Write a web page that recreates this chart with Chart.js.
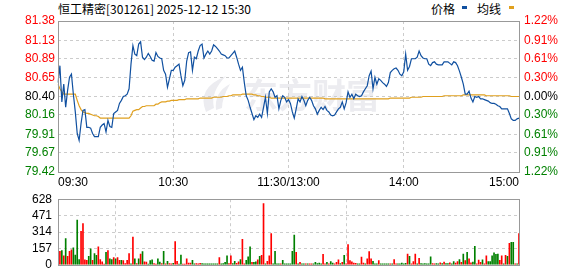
<!DOCTYPE html>
<html lang="zh-CN">
<head>
<meta charset="UTF-8">
<title>恒工精密 分时</title>
<script src="https://cdn.jsdelivr.net/npm/chart.js@4.4.1/dist/chart.umd.min.js"></script>
<style>
  body { margin: 0; background: #fff; width: 578px; height: 276px; position: relative; overflow: hidden;
         font-family: "Noto Sans CJK SC", "Liberation Sans", sans-serif; }
  canvas { position: absolute; left: 0; }
  #price { top: 0; }
  #vol { top: 186px; }
  .t { position: absolute; top: 3px; font-size: 12px; line-height: 12px; color: #000; white-space: nowrap; }
  .sw { position: absolute; top: 6px; width: 5px; height: 3px; }
</style>
</head>
<body>
<div class="t" style="left:58px">恒工精密[301261] 2025-12-12 15:30</div>
<div class="t" style="left:431px">价格</div>
<div class="sw" style="left:462px;background:#1050a0"></div>
<div class="t" style="left:477px">均线</div>
<div class="sw" style="left:509px;background:#e0a01e"></div>
<canvas id="price" width="578" height="192"></canvas>
<canvas id="vol" width="578" height="92"></canvas>
<script>
// one point per minute, 09:30-11:30 then 13:01-15:00 (241 points)
var preClose = 80.40;

var prices = [
  80.58, 80.80, 80.33, 80.56, 80.26, 80.48, 80.65, 80.69, 80.43, 80.20,
  79.92, 79.83, 80.05, 80.22, 80.23, 80.00, 80.00, 79.99, 79.92, 79.88,
  79.88, 79.88, 80.00, 80.03, 80.05, 79.94, 80.09, 80.01, 80.00, 80.18,
  80.20, 80.22, 80.31, 80.35, 80.40, 80.41, 80.43, 80.50, 80.82, 81.06,
  80.95, 80.93, 81.08, 81.11, 80.91, 80.88, 80.91, 80.96, 80.92, 80.87,
  80.86, 80.97, 80.92, 80.90, 80.89, 80.74, 80.69, 80.52, 80.63, 80.74,
  80.74, 80.78, 80.80, 80.82, 80.67, 80.54, 80.61, 80.86, 80.97, 80.98,
  80.74, 80.91, 80.89, 80.99, 81.06, 81.08, 80.90, 80.95, 80.99, 80.95,
  80.99, 81.07, 81.05, 81.02, 80.99, 80.95, 80.94, 80.93, 80.90, 80.90,
  80.93, 80.96, 80.99, 80.91, 80.82, 80.74, 80.78, 80.58, 80.41, 80.35,
  80.26, 80.18, 80.10, 80.15, 80.13, 80.17, 80.13, 80.26, 80.39, 80.18,
  80.46, 80.50, 80.46, 80.39, 80.41, 80.24, 80.35, 80.41, 80.39, 80.33,
  80.36, 80.31, 80.20, 80.12, 80.24, 80.37, 80.33, 80.40, 80.35, 80.28,
  80.35, 80.39, 80.35, 80.28, 80.24, 80.17, 80.22, 80.26, 80.23, 80.27,
  80.22, 80.20, 80.16, 80.15, 80.16, 80.20, 80.24, 80.26, 80.33, 80.24,
  80.32, 80.46, 80.39, 80.43, 80.37, 80.43, 80.41, 80.40, 80.41, 80.46,
  80.50, 80.54, 80.67, 80.73, 80.50, 80.65, 80.56, 80.63, 80.61, 80.58,
  80.56, 80.53, 80.58, 80.71, 80.74, 80.76, 80.77, 80.74, 80.69, 80.67,
  80.72, 80.95, 80.74, 80.79, 80.89, 80.89, 80.89, 80.91, 80.99, 80.93,
  80.90, 80.89, 80.89, 80.82, 80.80, 80.84, 80.85, 80.82, 80.81, 80.81,
  80.81, 80.85, 80.85, 80.85, 80.83, 80.81, 80.85, 80.84, 80.80, 80.73,
  80.65, 80.56, 80.43, 80.43, 80.47, 80.38, 80.33, 80.40, 80.39, 80.40,
  80.37, 80.37, 80.36, 80.35, 80.34, 80.32, 80.31, 80.31, 80.30, 80.28,
  80.27, 80.24, 80.24, 80.24, 80.24, 80.18, 80.11, 80.09, 80.09, 80.11,
  80.12
];

var avgPrices = [
  80.56, 80.50, 80.46, 80.43, 80.43, 80.43, 80.43, 80.43, 80.43, 80.43,
  80.35, 80.28, 80.23, 80.20, 80.19, 80.18, 80.18, 80.17, 80.16, 80.15,
  80.15, 80.14, 80.12, 80.12, 80.12, 80.12, 80.12, 80.12, 80.12, 80.12,
  80.12, 80.12, 80.12, 80.12, 80.12, 80.12, 80.12, 80.12, 80.15, 80.21,
  80.22, 80.23, 80.23, 80.25, 80.27, 80.27, 80.28, 80.28, 80.28, 80.28,
  80.28, 80.30, 80.30, 80.32, 80.33, 80.33, 80.33, 80.34, 80.34, 80.35,
  80.35, 80.35, 80.35, 80.36, 80.36, 80.36, 80.36, 80.37, 80.37, 80.37,
  80.37, 80.37, 80.37, 80.37, 80.38, 80.38, 80.38, 80.38, 80.38, 80.38,
  80.38, 80.39, 80.39, 80.39, 80.39, 80.39, 80.40, 80.40, 80.40, 80.41,
  80.41, 80.42, 80.42, 80.42, 80.42, 80.42, 80.43, 80.43, 80.43, 80.43,
  80.43, 80.43, 80.42, 80.42, 80.41, 80.41, 80.40, 80.40, 80.39, 80.39,
  80.39, 80.38, 80.38, 80.38, 80.38, 80.38, 80.38, 80.38, 80.38, 80.38,
  80.38, 80.38, 80.38, 80.38, 80.38, 80.38, 80.38, 80.38, 80.38, 80.38,
  80.38, 80.38, 80.38, 80.38, 80.38, 80.38, 80.38, 80.38, 80.38, 80.37,
  80.37, 80.37, 80.37, 80.37, 80.37, 80.37, 80.37, 80.37, 80.37, 80.37,
  80.37, 80.37, 80.37, 80.37, 80.37, 80.37, 80.37, 80.37, 80.37, 80.37,
  80.37, 80.37, 80.37, 80.37, 80.37, 80.37, 80.37, 80.37, 80.37, 80.37,
  80.37, 80.37, 80.37, 80.38, 80.38, 80.38, 80.38, 80.38, 80.38, 80.38,
  80.38, 80.38, 80.38, 80.38, 80.39, 80.39, 80.39, 80.39, 80.39, 80.39,
  80.40, 80.40, 80.40, 80.40, 80.40, 80.40, 80.40, 80.40, 80.40, 80.40,
  80.40, 80.41, 80.41, 80.41, 80.41, 80.41, 80.41, 80.41, 80.41, 80.41,
  80.41, 80.42, 80.42, 80.42, 80.42, 80.42, 80.42, 80.42, 80.42, 80.42,
  80.42, 80.42, 80.42, 80.41, 80.41, 80.41, 80.41, 80.41, 80.41, 80.41,
  80.41, 80.41, 80.41, 80.41, 80.41, 80.41, 80.40, 80.40, 80.40, 80.40,
  80.40
];

var volumes = [
   30, 128, 137,  86, 251,  80, 128, 143, 163,  94,
  428,  51, 320, 394,  48,  43,  80, 154,  43, 108,
   91, 171,  51,  29,   6, 120, 137,  57,  51,  69,
   57,  69,  43,  43,  40,  11,  43, 108,   9, 266,
   57,  11,  57, 103, 126,  29,  26,   6,  40,  48,
   11,   6,  57,  26,  11, 128,   9,  34,  11,   9,
   14, 223,  34,   6,  94,   6,   6,  57,  17,  17,
   43,   9,  11,   9,  14,  11,   9,   9,   9,   9,
    9,   9,   9,   9,  69,   9,  11,  23,  86,  11,
   86,  11,  34,  14,  29,  51, 243,   9,  43,  77,
  171,  23,  23,  29,  48,  80,  91, 585,   9,  34,
   86, 300,   9, 128,   9,   9,   9,  43,   9,   9,
    9,   9, 128, 285, 120,   9,  23,   9,   9,   9,
    9,   9,   9,   9,  23,  11,  17,   9, 100,   9,
   23,   9,  31,  17,   9,  23,  48,  11,  23,  91,
    9, 194,  40,  29,  17,  14,   9,   9,  74,  17,
    9,  57, 126,  57,  34,   9,   9,  40,   9,   9,
    9,   9,   9,   9,   9,  51,   9,   9,   9,  17,
    9,  14, 103,  80,   9,  31, 103,   9,  63,  11,
    9,  11,   9,   9,  77,  11,   9,  11,   9,  20,
   11,  26,  11,  11,  20,   9,  31,  17,  31,  51,
   23, 103,  40, 120,  57,  20,  26, 177,   9,  46,
   23,  48,   9,  86,  31,  31,  86, 114, 100, 103,
   43,  86,   9,  91,  80, 206, 214, 214,   9,   9,
  300
];

// r = up minute (red), g = down minute (green), same rows as volumes
var volDirs = (
  'rrgrgrrrgg' + 'ggrrrrggrg' + 'grrrrgrggr' + 'grrgrrrrgr' + 'grgrgrrggg' +
  'rrggrgrgrr' + 'grrggrrrrr' + 'ggrrrggggg' + 'ggggrggggr' + 'rggrrgrrgg' +
  'grggrgrrgr' + 'rrggggrggg' + 'ggggrgrggr' + 'grrgggggrr' + 'grggrrrgrg' +
  'rrrrrrggrr' + 'grrrgggrgg' + 'gggrgrrggg' + 'ggrgrrrgrg' + 'gggggrrggr' +
  'grggrggrrg' + 'rgrgrrggrr' + 'rgrrgggggg' + 'rrgrgrggrg' + 'r'
).split('');

var volColors = { r: '#ff0000', g: '#008000' };

var priceTicks = [81.38, 81.13, 80.89, 80.65, 80.40, 80.16, 79.91, 79.67, 79.42];
var priceTickLabels = ['81.38', '81.13', '80.89', '80.65', '80.40', '80.16', '79.91', '79.67', '79.42'];
var pctTickLabels = ['1.22%', '0.91%', '0.61%', '0.30%', '0.00%', '0.30%', '0.61%', '0.91%', '1.22%'];

var volTicks = [628, 471, 314, 157, 0];
var volTickLabels = ['628', '471', '314', '157', '0'];

var xTickIdx = [0, 60, 120, 180, 240];
var xTickLabels = ['09:30', '10:30', '11:30/13:00', '14:00', '15:00'];

// minute labels
var minutes = [];
function pad(n) { return (n < 10 ? '0' : '') + n; }
for (var m = 9 * 60 + 30; m <= 11 * 60 + 30; m++) minutes.push(pad(Math.floor(m / 60)) + ':' + pad(m % 60));
for (var m2 = 13 * 60 + 1; m2 <= 15 * 60; m2++) minutes.push(pad(Math.floor(m2 / 60)) + ':' + pad(m2 % 60));

var RED = '#ff0000', GREEN = '#008000', GRID = '#cccccc';
var axisFont = { family: '"Liberation Sans", Arial, sans-serif', size: 12 };

function tickColor(ctx) {
  var v = ctx.tick.value;
  if (Math.abs(v - preClose) < 0.001) return '#000';
  return v > preClose ? RED : GREEN;
}

function innerGrid(min, max) {
  return function (ctx) {
    if (!ctx.tick) return 'rgba(0,0,0,0)';
    var v = ctx.tick.value;
    return (Math.abs(v - min) < 0.001 || Math.abs(v - max) < 0.001) ? 'rgba(0,0,0,0)' : GRID;
  };
}

function xAxis(showLabels, height) {
  return {
    type: 'category',
    offset: false,
    afterBuildTicks: function (s) { s.ticks = xTickIdx.map(function (v) { return { value: v }; }); },
    afterFit: function (s) { s.height = height; },
    ticks: {
      display: showLabels, autoSkip: false, maxRotation: 0, minRotation: 0, align: 'inner',
      color: '#000', font: axisFont, padding: 3,
      callback: function (v) { return xTickLabels[xTickIdx.indexOf(v)]; }
    },
    grid: {
      drawTicks: false,
      color: function (ctx) { return (ctx.index > 0 && ctx.index < 4) ? GRID : 'rgba(0,0,0,0)'; },
      borderDash: [3, 3]
    },
    border: { display: false, dash: [3, 3] }
  };
}

var framePlugin = {
  id: 'frame',
  afterDatasetsDraw: function (chart) {
    var a = chart.chartArea, c = chart.ctx;
    c.save();
    c.strokeStyle = '#999';
    c.lineWidth = 1;
    c.strokeRect(Math.round(a.left) + 0.5, Math.round(a.top) + 0.5,
                 Math.round(a.right - a.left), Math.round(a.bottom - a.top));
    c.restore();
  }
};

var watermark = {
  id: 'watermark',
  beforeDraw: function (chart) {
    var c = chart.ctx;
    c.save();
    c.fillStyle = '#ececf0';
    // feather logo
    c.beginPath();
    c.moveTo(206, 112); c.quadraticCurveTo(196, 88, 226, 76); c.quadraticCurveTo(210, 92, 214, 108); c.closePath();
    c.fill();
    c.beginPath();
    c.moveTo(216, 110); c.quadraticCurveTo(214, 92, 230, 84); c.quadraticCurveTo(222, 98, 222, 108); c.closePath();
    c.fill();
    c.font = 'bold 34px "Noto Sans CJK SC"';
    c.textBaseline = 'middle';
    c.fillText('东方财富', 244, 95);
    c.restore();
  }
};

new Chart(document.getElementById('price'), {
  type: 'line',
  data: {
    labels: minutes,
    datasets: [
      { label: '价格', data: prices, borderColor: '#1050a0', borderWidth: 1.2, pointRadius: 0, tension: 0 },
      { label: '均线', data: avgPrices, borderColor: '#e0a01e', borderWidth: 1.2, pointRadius: 0, tension: 0 }
    ]
  },
  options: {
    responsive: false, animation: false, devicePixelRatio: 1,
    layout: { padding: { top: 21, left: 0, right: 0, bottom: 0 } },
    plugins: { legend: { display: false }, tooltip: { enabled: false } },
    scales: {
      x: xAxis(true, 20),
      y: {
        position: 'left', min: 79.42, max: 81.38,
        afterBuildTicks: function (s) { s.ticks = priceTicks.slice().reverse().map(function (v) { return { value: v }; }); },
        afterFit: function (s) { s.width = 58; },
        ticks: {
          autoSkip: false, font: axisFont, padding: 3, color: tickColor,
          callback: function (v) { return priceTickLabels[priceTicks.indexOf(v)]; }
        },
        grid: { drawTicks: false, color: innerGrid(79.42, 81.38), borderDash: [3, 3] },
        border: { display: false, dash: [3, 3] }
      },
      pct: {
        position: 'right', min: 79.42, max: 81.38,
        afterBuildTicks: function (s) { s.ticks = priceTicks.slice().reverse().map(function (v) { return { value: v }; }); },
        afterFit: function (s) { s.width = 59; },
        ticks: {
          autoSkip: false, font: axisFont, padding: 5, color: tickColor,
          callback: function (v) { return pctTickLabels[priceTicks.indexOf(v)]; }
        },
        grid: { display: false, drawTicks: false },
        border: { display: false }
      }
    }
  },
  plugins: [watermark, framePlugin]
});

new Chart(document.getElementById('vol'), {
  type: 'bar',
  data: {
    labels: minutes,
    datasets: [{
      label: '成交量', data: volumes,
      backgroundColor: volDirs.map(function (d) { return volColors[d]; }),
      barThickness: 1, categoryPercentage: 1, barPercentage: 1
    }]
  },
  options: {
    responsive: false, animation: false, devicePixelRatio: 1,
    layout: { padding: { top: 11, left: 0, right: 59, bottom: 8 } },
    plugins: { legend: { display: false }, tooltip: { enabled: false } },
    scales: {
      x: xAxis(false, 0),
      y: {
        position: 'left', min: 0, max: 628,
        afterBuildTicks: function (s) { s.ticks = volTicks.slice().reverse().map(function (v) { return { value: v }; }); },
        afterFit: function (s) { s.width = 58; },
        ticks: {
          autoSkip: false, font: axisFont, padding: 6, color: '#000',
          callback: function (v) { return volTickLabels[volTicks.indexOf(v)]; }
        },
        grid: { drawTicks: false, color: innerGrid(0, 628), borderDash: [3, 3] },
        border: { display: false, dash: [3, 3] }
      }
    }
  },
  plugins: [framePlugin]
});
</script>
</body>
</html>
